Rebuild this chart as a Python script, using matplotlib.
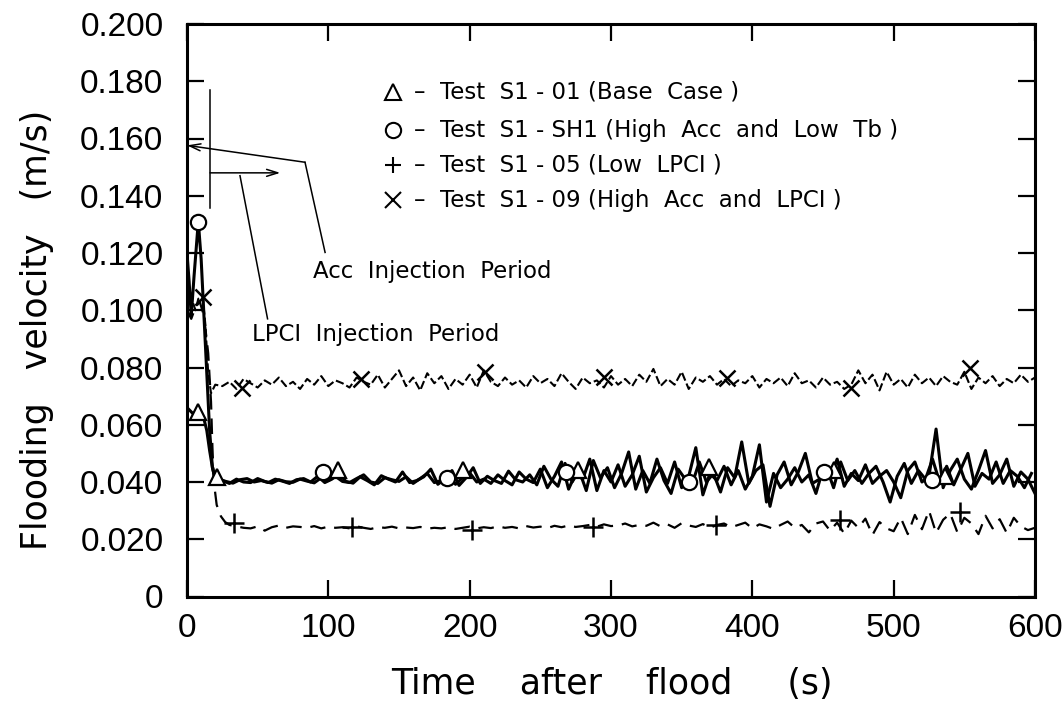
import numpy as np
import matplotlib
matplotlib.use("Agg")
import matplotlib.pyplot as plt
from matplotlib.lines import Line2D

# ---------------- data ----------------
# Test S1-01 (Base Case) - solid, triangles
t_s101_early = [0, 2, 4, 6, 8, 10, 12, 14, 16, 18, 20]
v_s101_early = [0.066, 0.065, 0.064, 0.064, 0.064, 0.063, 0.062, 0.058, 0.051, 0.045, 0.041]
t_s101_late = np.arange(25, 601, 5)
v_s101_late = [0.0405, 0.0395, 0.0410, 0.0400, 0.0398, 0.0412, 0.0402, 0.0396, 0.0408, 0.0401,
               0.0399, 0.0410, 0.0403, 0.0397, 0.0415, 0.0405, 0.0420, 0.0402, 0.0398, 0.0412,
               0.0425, 0.0400, 0.0395, 0.0415, 0.0408, 0.0402, 0.0418, 0.0395, 0.0412, 0.0430,
               0.0398, 0.0405, 0.0420, 0.0392, 0.0415, 0.0432, 0.0400, 0.0410, 0.0395, 0.0425,
               0.0405, 0.0390, 0.0435, 0.0410, 0.0398,
               0.0445, 0.0380, 0.0420, 0.0470, 0.0375, 0.0430, 0.0410, 0.0480, 0.0370, 0.0440,
               0.0400, 0.0460, 0.0385, 0.0425, 0.0490, 0.0365, 0.0415, 0.0450, 0.0395, 0.0470,
               0.0380, 0.0420, 0.0520, 0.0355, 0.0430, 0.0405, 0.0455, 0.0390, 0.0440, 0.0375,
               0.0420, 0.0530, 0.0330, 0.0430, 0.0380, 0.0410, 0.0450, 0.0400, 0.0425, 0.0360,
               0.0445, 0.0415, 0.0480, 0.0385, 0.0430, 0.0405, 0.0460, 0.0395, 0.0420, 0.0440,
               0.0400, 0.0345, 0.0440, 0.0470, 0.0400, 0.0420, 0.0585, 0.0380, 0.0440, 0.0480,
               0.0410, 0.0375, 0.0440, 0.0510, 0.0395, 0.0425, 0.0480, 0.0385, 0.0435, 0.0410,
               0.0360]

# Test S1-SH1 (High Acc and Low Tb) - solid, circles
t_sh1_early = [0, 1.5, 3, 5, 8, 10, 12, 14, 16, 18, 20]
v_sh1_early = [0.120, 0.110, 0.098, 0.112, 0.131, 0.118, 0.098, 0.078, 0.058, 0.045, 0.041]
t_sh1_late = np.arange(22.5, 600, 5)
v_sh1_late = [0.0410, 0.0402, 0.0396, 0.0408, 0.0412, 0.0400, 0.0405, 0.0398, 0.0410, 0.0403,
              0.0395, 0.0408, 0.0412, 0.0400, 0.0420, 0.0398, 0.0410, 0.0428, 0.0402, 0.0396,
              0.0418, 0.0405, 0.0390, 0.0422, 0.0410, 0.0400, 0.0435, 0.0398, 0.0405, 0.0418,
              0.0445, 0.0392, 0.0410, 0.0440, 0.0388, 0.0415, 0.0450, 0.0395, 0.0420, 0.0405,
              0.0395, 0.0438, 0.0408, 0.0400, 0.0425,
              0.0390, 0.0455, 0.0410, 0.0385, 0.0465, 0.0400, 0.0440, 0.0370, 0.0475, 0.0415,
              0.0450, 0.0380, 0.0430, 0.0505, 0.0375, 0.0440, 0.0395, 0.0480, 0.0405, 0.0360,
              0.0445, 0.0410, 0.0395, 0.0470, 0.0400, 0.0430, 0.0365, 0.0450, 0.0415, 0.0540,
              0.0395, 0.0440, 0.0460, 0.0315, 0.0425, 0.0470, 0.0390, 0.0435, 0.0500, 0.0395,
              0.0410, 0.0450, 0.0380, 0.0470, 0.0405, 0.0440, 0.0395, 0.0430, 0.0455, 0.0400,
              0.0330, 0.0420, 0.0465, 0.0395, 0.0440, 0.0410, 0.0480, 0.0400, 0.0455, 0.0390,
              0.0445, 0.0500, 0.0385, 0.0430, 0.0410, 0.0470, 0.0395, 0.0440, 0.0420, 0.0380,
              0.0430]

# Test S1-05 (Low LPCI) - long dashes, plus
t_s105_early = [0, 3, 6, 9, 12, 15, 17, 18, 19, 21, 24, 27]
v_s105_early = [0.100, 0.097, 0.101, 0.103, 0.098, 0.085, 0.068, 0.052, 0.040, 0.032, 0.028, 0.026]
t_s105_late = np.arange(30, 601, 5)
v_s105_late = [0.0250, 0.0245, 0.0240, 0.0238, 0.0245, 0.0230, 0.0242, 0.0248, 0.0240, 0.0245,
               0.0243, 0.0240, 0.0246, 0.0238, 0.0244, 0.0240, 0.0242, 0.0238, 0.0245, 0.0240,
               0.0236, 0.0242, 0.0240, 0.0244, 0.0238, 0.0241, 0.0239, 0.0243, 0.0237, 0.0240,
               0.0238, 0.0242, 0.0236, 0.0240, 0.0244, 0.0238, 0.0242, 0.0239, 0.0245, 0.0240,
               0.0243, 0.0238, 0.0246, 0.0241, 0.0244, 0.0239, 0.0247, 0.0242, 0.0248, 0.0243,
               0.0246, 0.0250, 0.0244, 0.0252, 0.0246, 0.0248, 0.0255, 0.0245, 0.0250, 0.0247,
               0.0258, 0.0245, 0.0252, 0.0240, 0.0256, 0.0248, 0.0243, 0.0253, 0.0240, 0.0250,
               0.0255, 0.0242, 0.0250, 0.0258, 0.0238, 0.0252, 0.0245, 0.0236, 0.0250, 0.0262,
               0.0240, 0.0250, 0.0224, 0.0255, 0.0262, 0.0230, 0.0258, 0.0220, 0.0265, 0.0240,
               0.0272, 0.0215, 0.0260, 0.0238, 0.0228, 0.0275, 0.0218, 0.0285, 0.0235, 0.0300,
               0.0222, 0.0268, 0.0290, 0.0225, 0.0275, 0.0255, 0.0218, 0.0282, 0.0238, 0.0270,
               0.0222, 0.0275, 0.0245, 0.0232, 0.0240]

# Test S1-09 (High Acc and LPCI) - short dashes, x
t_s109_early = [0, 2, 4, 6, 8, 11, 13, 15, 17, 20]
v_s109_early = [0.100, 0.098, 0.103, 0.100, 0.104, 0.105, 0.095, 0.078, 0.071, 0.074]
t_s109_late = np.arange(25, 601, 5)
v_s109_late = [0.0735, 0.0750, 0.0725, 0.0760, 0.0745, 0.0730, 0.0755, 0.0740, 0.0765, 0.0735,
               0.0750, 0.0725, 0.0760, 0.0740, 0.0770, 0.0735, 0.0755, 0.0745, 0.0730, 0.0765,
               0.0750, 0.0740, 0.0775, 0.0730, 0.0760, 0.0790, 0.0735, 0.0765, 0.0720, 0.0780,
               0.0745, 0.0770, 0.0725, 0.0760, 0.0740, 0.0775, 0.0730, 0.0790, 0.0750, 0.0735,
               0.0765, 0.0740, 0.0755, 0.0730, 0.0770, 0.0745, 0.0760, 0.0735, 0.0780, 0.0750,
               0.0725, 0.0765, 0.0745, 0.0755, 0.0730, 0.0770, 0.0740, 0.0760, 0.0735, 0.0775,
               0.0750, 0.0795, 0.0735, 0.0760, 0.0740, 0.0785, 0.0725, 0.0765, 0.0750, 0.0770,
               0.0740, 0.0760, 0.0735, 0.0755, 0.0745, 0.0770, 0.0730, 0.0760, 0.0745, 0.0765,
               0.0735, 0.0780, 0.0745, 0.0755, 0.0730, 0.0765, 0.0740, 0.0750, 0.0725, 0.0740,
               0.0790, 0.0745, 0.0775, 0.0720, 0.0785, 0.0740, 0.0760, 0.0730, 0.0775, 0.0745,
               0.0765, 0.0735, 0.0770, 0.0750, 0.0740, 0.0785, 0.0725, 0.0765, 0.0745, 0.0770,
               0.0735, 0.0760, 0.0745, 0.0775, 0.0750, 0.0765]

# marker positions
tri_t = [8, 21, 107, 195, 277, 369, 458, 536]
tri_v = [0.0644, 0.0417, 0.0442, 0.0442, 0.0442, 0.0452, 0.0442, 0.0422]
circ_t = [8, 96, 184, 268, 355, 451, 527]
circ_v = [0.1307, 0.0435, 0.0414, 0.0435, 0.0400, 0.0435, 0.0407]
x_t = [11, 39, 123, 211, 295, 382, 470, 554]
x_v = [0.1045, 0.0728, 0.0759, 0.0783, 0.0766, 0.0763, 0.0728, 0.0798]
plus_t = [33, 117, 202, 287, 374, 462, 547]
plus_v = [0.0257, 0.0243, 0.0232, 0.0243, 0.0250, 0.0267, 0.0295]

x_ticks = [0, 100, 200, 300, 400, 500, 600]
y_ticks = [0, 0.02, 0.04, 0.06, 0.08, 0.10, 0.12, 0.14, 0.16, 0.18, 0.20]
y_tick_labels = ["0", "0.020", "0.040", "0.060", "0.080", "0.100", "0.120",
                 "0.140", "0.160", "0.180", "0.200"]
legend_labels = ["–  Test  S1 - 01 (Base  Case )",
                 "–  Test  S1 - SH1 (High  Acc  and  Low  Tb )",
                 "–  Test  S1 - 05 (Low  LPCI )",
                 "–  Test  S1 - 09 (High  Acc  and  LPCI )"]
legend_markers = ["^", "o", "+", "x"]

# ---------------- figure ----------------
W, H = 1063, 711
fig = plt.figure(figsize=(W / 100, H / 100), dpi=100)
ax = fig.add_axes([187 / W, 1 - 596.5 / H, (1035 - 187) / W, (596.5 - 24) / H])

tick_font = dict(family=["Liberation Sans", "DejaVu Sans"], size=24)
label_font = dict(family=["DejaVu Sans"], size=25)
text_font = dict(family=["DejaVu Sans"], size=16.5)

# lines
ax.plot(np.concatenate([t_s101_early, t_s101_late]), v_s101_early + v_s101_late,
        color="black", lw=2.2, zorder=3)
ax.plot(np.concatenate([t_sh1_early, t_sh1_late]), v_sh1_early + v_sh1_late,
        color="black", lw=2.2, zorder=3)
ax.plot(np.concatenate([t_s105_early, t_s105_late]), v_s105_early + v_s105_late,
        color="black", lw=1.6, linestyle=(0, (7, 4)), zorder=3)
ax.plot(np.concatenate([t_s109_early, t_s109_late]), v_s109_early + v_s109_late,
        color="black", lw=1.5, linestyle=(0, (4, 1.5)), zorder=3)

# markers
mk = dict(linestyle="none", color="black", zorder=5, clip_on=False)
ax.plot(tri_t, tri_v, marker="^", ms=12, mfc="white", mec="black", mew=1.6, **mk)
ax.plot(circ_t, circ_v, marker="o", ms=11, mfc="white", mec="black", mew=1.6, **mk)
ax.plot(x_t, x_v, marker="x", ms=12, mew=1.8, **mk)
ax.plot(plus_t, plus_v, marker="+", ms=14, mew=1.8, **mk)

# axes styling
ax.set_xlim(0, 600)
ax.set_ylim(0, 0.2)
ax.set_xticks(x_ticks)
ax.set_xticklabels([str(v) for v in x_ticks], fontdict=tick_font)
ax.set_yticks(y_ticks)
ax.set_yticklabels(y_tick_labels, fontdict=tick_font)
ax.tick_params(direction="in", length=12, width=1.6, top=True, right=True)
ax.tick_params(axis="x", pad=12)
ax.tick_params(axis="y", pad=17)
for s in ax.spines.values():
    s.set_linewidth(2.2)

fig.text(612 / W, 1 - 684 / H, "Time    after    flood     (s)", ha="center", va="center",
         fontdict=label_font)
fig.text(37 / W, 1 - 330 / H, "Flooding   velocity   (m/s)", ha="center", va="center",
         rotation=90, fontdict=label_font)

# legend (manual)
rows_y = [92, 130, 165, 200]
for m, lab, yy in zip(legend_markers, legend_labels, rows_y):
    yf = 1 - yy / H
    fig.add_artist(Line2D([393 / W], [yf], marker=m, ms=11 if m in "^o" else 12,
                          mfc="white", mec="black", mew=1.5, color="black",
                          linestyle="none", transform=fig.transFigure))
    fig.text(414 / W, yf, lab, ha="left", va="center", fontdict=text_font)

# annotations
line_kw = dict(color="black", lw=1.1, clip_on=False, zorder=4)
# LPCI start marker line
ax.plot([16.3, 16.3], [0.1356, 0.1768], **line_kw)
ax.annotate("", xy=(66, 0.148), xytext=(16.3, 0.148),
            arrowprops=dict(arrowstyle="->,head_length=0.8,head_width=0.25",
                            lw=1.1, color="black", shrinkA=0, shrinkB=0),
            annotation_clip=False)
# Acc arrow
ax.plot([97.7, 83.5], [0.1202, 0.1517], **line_kw)
ax.annotate("", xy=(0, 0.1576), xytext=(83.5, 0.1517),
            arrowprops=dict(arrowstyle="->,head_length=0.8,head_width=0.25",
                            lw=1.1, color="black", shrinkA=0, shrinkB=0),
            annotation_clip=False)
# LPCI leader
ax.plot([37.5, 57.0], [0.147, 0.097], **line_kw)

ax.text(89, 0.1135, "Acc  Injection  Period", ha="left", va="center", fontdict=text_font)
ax.text(46, 0.0915, "LPCI  Injection  Period", ha="left", va="center", fontdict=text_font)

fig.savefig("out.png", dpi=100)
